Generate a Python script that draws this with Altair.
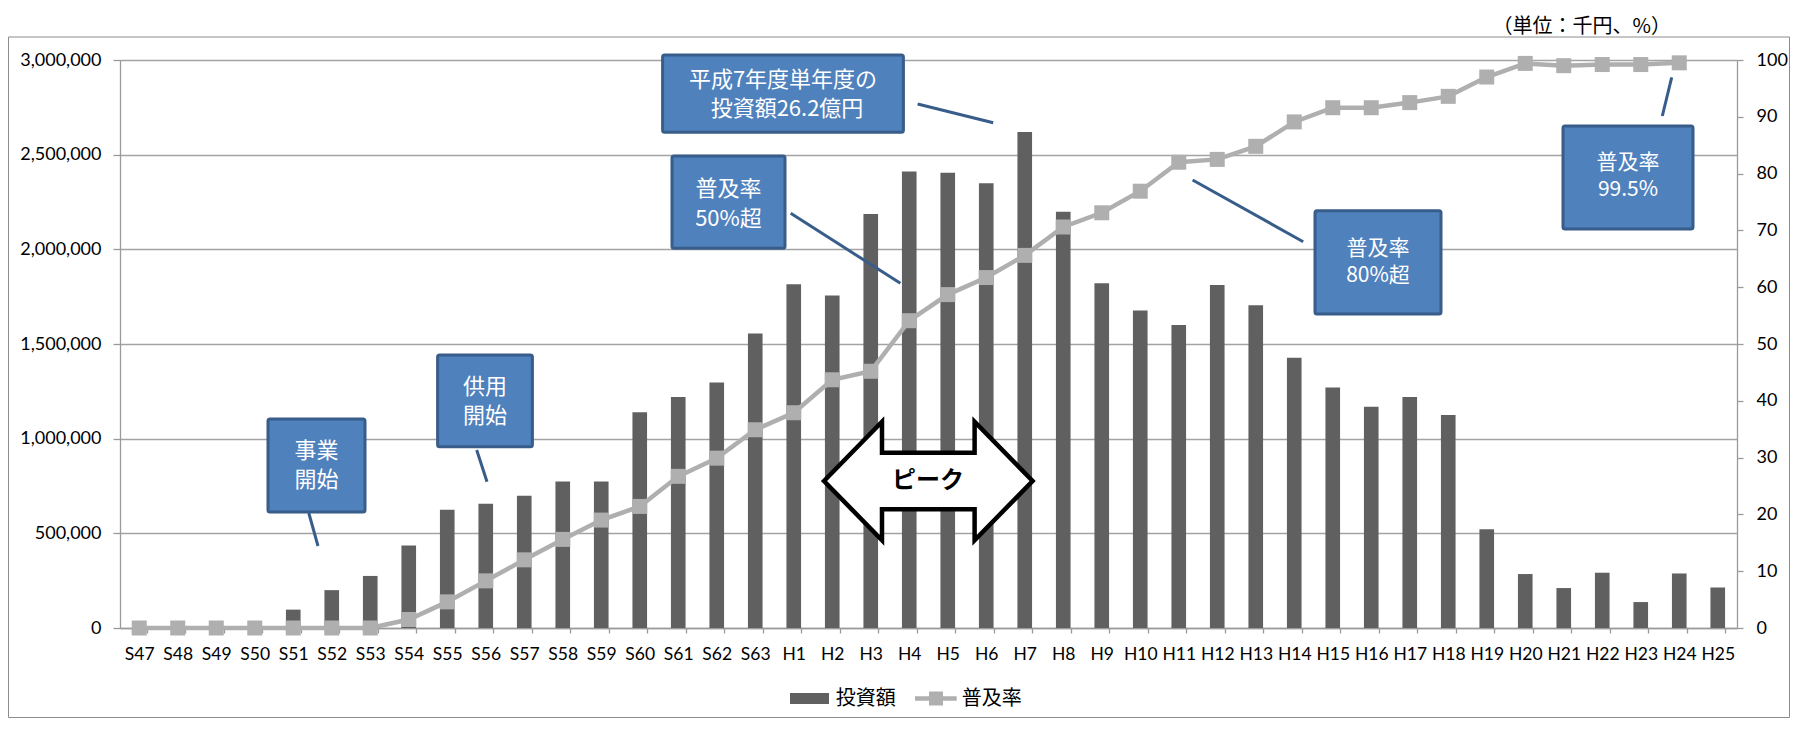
import altair as alt
import pandas as pd

# ---- data ----
categories = ["S47", "S48", "S49", "S50", "S51", "S52", "S53", "S54", "S55", "S56",
              "S57", "S58", "S59", "S60", "S61", "S62", "S63",
              "H1", "H2", "H3", "H4", "H5", "H6", "H7", "H8", "H9", "H10",
              "H11", "H12", "H13", "H14", "H15", "H16", "H17", "H18", "H19", "H20",
              "H21", "H22", "H23", "H24", "H25"]
investment = [0, 0, 0, 0, 97000, 200000, 275000, 436000, 625000, 656000,
              699000, 774000, 774000, 1140000, 1220000, 1297000, 1555000,
              1816000, 1756000, 2186000, 2411000, 2405000, 2349000, 2620000, 2198000, 1821000, 1677000,
              1601000, 1811000, 1705000, 1427000, 1270000, 1168000, 1220000, 1125000, 521000, 285000,
              211000, 292000, 137000, 288000, 214000]
diffusion = [0, 0, 0, 0, 0, 0, 0, 1.5, 4.6, 8.3,
             12.0, 15.6, 19.0, 21.4, 26.7, 29.9, 34.9,
             37.9, 43.7, 45.2, 54.1, 58.7, 61.7, 65.6, 70.6, 73.1, 76.9,
             82.0, 82.5, 84.8, 89.1, 91.6, 91.6, 92.5, 93.6, 97.0, 99.4,
             99.0, 99.2, 99.2, 99.5, None]
left_ticks = [0, 500000, 1000000, 1500000, 2000000, 2500000, 3000000]
right_ticks = [0, 10, 20, 30, 40, 50, 60, 70, 80, 90, 100]
series_names = ["投資額", "普及率"]
unit_label = "（単位：千円、%）"

df = pd.DataFrame({"year": categories, "invest": investment, "rate": diffusion})
one = pd.DataFrame({"k": [0]})

# ---- layout ----
W, H = 1617, 568
PAD_L, PAD_T, PAD_R, PAD_B = 112, 52, 53, 90
OX, OY = 8 + PAD_L, 8 + PAD_T
TOTAL_W = PAD_L + W + PAD_R
TOTAL_H = PAD_T + H + PAD_B

BAR = "#606060"
LINE = "#AFAFAF"
GRID = "#A3A3A3"
BOX_FILL = "#4F81BD"
BOX_EDGE = "#385D8A"
JP = "Noto Sans CJK JP"
LAT = "Lato"


def px(x):
    return alt.value(x - OX)


def py(y):
    return alt.value(y - OY)


axis_common = dict(labelFont=LAT, labelColor="#000000",
                   domainColor="#9A9A9A", domainWidth=1.3, tickColor="#9A9A9A",
                   tickWidth=1.3, title=None)

x_axis = alt.Axis(labelAngle=0, tickBand="extent", tickSize=5, labelPadding=12,
                  labelOverlap=False, grid=False, labelFontSize=17.5, **axis_common)
x_scale = alt.Scale(paddingInner=0.62, paddingOuter=0.31)
x_enc = alt.X("year:N", sort=categories, scale=x_scale, axis=x_axis)

bars = alt.Chart(df).mark_bar(color=BAR).encode(
    x=x_enc,
    y=alt.Y("invest:Q", scale=alt.Scale(domain=[0, 3000000], nice=False),
            axis=alt.Axis(values=left_ticks, format=",d", orient="left", grid=True,
                          gridColor=GRID, gridWidth=1.3, tickSize=7, labelPadding=12,
                          labelFontSize=18, **axis_common)),
)

y_line = alt.Y("rate:Q", scale=alt.Scale(domain=[0, 100], nice=False),
               axis=alt.Axis(values=right_ticks, orient="right", grid=False,
                             tickSize=6, labelPadding=13, labelFontSize=18, **axis_common))

line = alt.Chart(df).mark_line(color=LINE, strokeWidth=4.5).encode(x=x_enc, y=y_line)
pts = alt.Chart(df).mark_point(shape="square", filled=True, size=225, color=LINE,
                               opacity=1).encode(x=x_enc, y=y_line)
rate_layer = alt.layer(line, pts)

layers = []

# outer chart border
layers.append(alt.Chart(one).mark_rect(fillOpacity=0, stroke="#8C8C8C", strokeWidth=1).encode(
    x=alt.value(0.5 - PAD_L), x2=alt.value(TOTAL_W - PAD_L - 0.5),
    y=py(37), y2=alt.value(TOTAL_H - PAD_T - 0.5)))

annot = []


def box(x0, x1, y0, y1):
    annot.append(alt.Chart(one).mark_rect(fill=BOX_FILL, stroke=BOX_EDGE, strokeWidth=3,
                                          cornerRadius=2).encode(
        x=px(x0), x2=px(x1), y=py(y0), y2=py(y1)))


def seg(x0, y0, x1, y1, color=BOX_EDGE, width=3):
    annot.append(alt.Chart(one).mark_rule(color=color, strokeWidth=width).encode(
        x=px(x0), x2=px(x1), y=py(y0), y2=py(y1)))


def text(s, x, y, size=22, color="white", align="center", weight="normal", font=JP):
    annot.append(alt.Chart(one).mark_text(text=s, fontSize=size, color=color, align=align,
                                          baseline="middle", font=font,
                                          fontWeight=weight).encode(x=px(x), y=py(y)))


# 事業開始
seg(308.8, 513, 318, 546)
box(268, 365, 419, 512)
text("事業", 316.5, 451)
text("開始", 316.5, 480)
# 供用開始
seg(476.7, 450, 487, 481.7)
box(437.6, 532.4, 355, 446.7)
text("供用", 485, 387)
text("開始", 485, 416)
# 平成7年度
seg(917.6, 104, 993.2, 122.7)
box(662.6, 903.4, 55, 132.3)
text("平成7年度単年度の", 783, 80)
text("投資額26.2億円", 787, 108.5)
# 50%超
seg(790.7, 213.3, 900.4, 283.3)
box(672, 785, 156, 248.3)
text("普及率", 728.5, 188.5)
text("50%超", 728.5, 218.5)
# 80%超
seg(1192.6, 180, 1303.2, 241.7)
box(1315, 1441, 210.7, 314)
text("普及率", 1378, 249, size=21)
text("80%超", 1378, 275.5, size=21)
# 99.5%
seg(1671.7, 77.3, 1662.3, 116)
box(1563, 1693, 126, 229)
text("普及率", 1628, 163, size=21)
text("99.5%", 1628, 190, size=21)

# peak double arrow
arrow_path = ("M -1 0 L -0.444 -0.568 L -0.444 -0.271 L 0.444 -0.271 L 0.444 -0.568 "
              "L 1 0 L 0.444 0.568 L 0.444 0.271 L -0.444 0.271 L -0.444 0.568 Z")
annot.append(alt.Chart(one).mark_point(shape=arrow_path, size=(2 * 104.3) ** 2, filled=True,
                                       fill="white", stroke="black", strokeWidth=4.5,
                                       opacity=1).encode(x=px(928.3), y=py(481)))
text("ピーク", 928, 481, size=24, color="black", weight="bold")

# unit label
text(unit_label, 1671, 27, size=20, color="black", align="right")

# legend
annot.append(alt.Chart(one).mark_rect(color=BAR).encode(
    x=px(790), x2=px(829), y=py(693), y2=py(704)))
text(series_names[0], 835.7, 698.5, size=20, color="black", align="left")
seg(915, 698.5, 956.7, 698.5, color=LINE, width=4.5)
annot.append(alt.Chart(one).mark_point(shape="square", filled=True, size=196, color=LINE,
                                       opacity=1).encode(x=px(936), y=py(698.5)))
text(series_names[1], 961.7, 698.5, size=20, color="black", align="left")

chart = alt.layer(*layers, bars, rate_layer, *annot).resolve_scale(
    y="independent"
).properties(
    width=W, height=H,
    autosize=alt.AutoSizeParams(type="none"),
    padding={"left": PAD_L, "top": PAD_T, "right": PAD_R, "bottom": PAD_B},
).configure_view(stroke=None).configure(background="white")

chart.save("out.html", embed_options={"renderer": "svg", "actions": False})
